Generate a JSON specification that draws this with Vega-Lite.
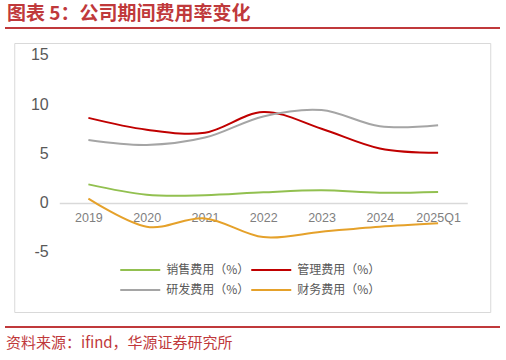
{
  "$schema": "https://vega.github.io/schema/vega-lite/v6.json",
  "padding": {"left": 5, "top": 5, "right": 5, "bottom": 0},
  "background": "white",
  "spacing": 13,
  "center": true,
  "config": {"font": "Noto Sans CJK SC"},
  "datasets": {
    "rates": [
      {"year": "2019", "series": "销售费用（%）", "value": 1.85},
      {"year": "2020", "series": "销售费用（%）", "value": 0.8},
      {"year": "2021", "series": "销售费用（%）", "value": 0.75},
      {"year": "2022", "series": "销售费用（%）", "value": 1.05},
      {"year": "2023", "series": "销售费用（%）", "value": 1.25},
      {"year": "2024", "series": "销售费用（%）", "value": 1.0},
      {"year": "2025Q1", "series": "销售费用（%）", "value": 1.08},
      {"year": "2019", "series": "管理费用（%）", "value": 8.6},
      {"year": "2020", "series": "管理费用（%）", "value": 7.4},
      {"year": "2021", "series": "管理费用（%）", "value": 7.1},
      {"year": "2022", "series": "管理费用（%）", "value": 9.2},
      {"year": "2023", "series": "管理费用（%）", "value": 7.5},
      {"year": "2024", "series": "管理费用（%）", "value": 5.5},
      {"year": "2025Q1", "series": "管理费用（%）", "value": 5.05},
      {"year": "2019", "series": "研发费用（%）", "value": 6.36},
      {"year": "2020", "series": "研发费用（%）", "value": 5.86},
      {"year": "2021", "series": "研发费用（%）", "value": 6.6},
      {"year": "2022", "series": "研发费用（%）", "value": 8.75},
      {"year": "2023", "series": "研发费用（%）", "value": 9.4},
      {"year": "2024", "series": "研发费用（%）", "value": 7.75},
      {"year": "2025Q1", "series": "研发费用（%）", "value": 7.85},
      {"year": "2019", "series": "财务费用（%）", "value": 0.4},
      {"year": "2020", "series": "财务费用（%）", "value": -2.45},
      {"year": "2021", "series": "财务费用（%）", "value": -1.6},
      {"year": "2022", "series": "财务费用（%）", "value": -3.5},
      {"year": "2023", "series": "财务费用（%）", "value": -2.95},
      {"year": "2024", "series": "财务费用（%）", "value": -2.45},
      {"year": "2025Q1", "series": "财务费用（%）", "value": -2.1}
    ]
  },
  "vconcat": [
    {
      "width": 495,
      "height": 2,
      "view": {"stroke": null, "fill": "#C0393B"},
      "title": {"text": "图表 5：公司期间费用率变化", "anchor": "start", "fontSize": 19, "fontWeight": "bold", "color": "#C0393B", "font": "Noto Sans CJK SC", "offset": 3, "dx": 2},
      "data": {"values": []},
      "mark": {"type": "rule"},
      "encoding": {}
    },
    {
      "width": 476,
      "height": 269,
      "view": {"stroke": "#D9D9D9", "strokeWidth": 1},
      "data": {"name": "rates"},
      "encoding": {
        "x": {
          "field": "year", "type": "ordinal",
          "scale": {"type": "point", "range": [45, 453], "padding": 0.5},
          "axis": {"title": null, "orient": "bottom", "offset": -109, "domainColor": "#D9D9D9", "domainWidth": 1.5, "ticks": false, "labelAngle": 0, "labelColor": "#7F7F7F", "labelFontSize": 12.5, "labelFont": "Liberation Sans", "labelPadding": 8, "grid": false}
        },
        "y": {
          "field": "value", "type": "quantitative",
          "scale": {"domain": [-11.1, 16.2], "nice": false, "zero": false},
          "axis": {"title": null, "values": [-5, 0, 5, 10, 15], "labelExpr": "replace(datum.label, '−', '-')", "offset": -36, "domain": false, "ticks": false, "grid": false, "labelColor": "#595959", "labelFontSize": 16, "labelFont": "Liberation Sans", "labelPadding": 2}
        }
      },
      "layer": [
        {
          "transform": [{"filter": {"field": "series", "oneOf": ["销售费用（%）", "管理费用（%）"]}}],
          "mark": {"type": "line", "interpolate": "cardinal", "strokeWidth": 2},
          "encoding": {
            "color": {
              "field": "series", "type": "nominal",
              "scale": {"domain": ["销售费用（%）", "管理费用（%）"], "range": ["#92C050", "#C00000"]},
              "legend": {"title": null, "orient": "none", "legendX": 105, "legendY": 206, "direction": "horizontal", "symbolType": "stroke", "symbolSize": 1600, "symbolStrokeWidth": 2, "labelFontSize": 12, "labelColor": "#595959", "labelFont": "Noto Sans CJK SC", "columnPadding": -4, "labelOffset": 5, "labelLimit": 200}
            }
          }
        },
        {
          "transform": [{"filter": {"field": "series", "oneOf": ["研发费用（%）", "财务费用（%）"]}}],
          "mark": {"type": "line", "interpolate": "cardinal", "strokeWidth": 2},
          "encoding": {
            "color": {
              "field": "series", "type": "nominal",
              "scale": {"domain": ["研发费用（%）", "财务费用（%）"], "range": ["#A5A5A5", "#E5A12A"]},
              "legend": {"title": null, "orient": "none", "legendX": 105, "legendY": 226, "direction": "horizontal", "symbolType": "stroke", "symbolSize": 1600, "symbolStrokeWidth": 2, "labelFontSize": 12, "labelColor": "#595959", "labelFont": "Noto Sans CJK SC", "columnPadding": -4, "labelOffset": 5, "labelLimit": 200}
            }
          }
        }
      ],
      "resolve": {"scale": {"color": "independent"}, "legend": {"color": "independent"}}
    },
    {
      "width": 495,
      "height": 2,
      "view": {"stroke": null, "fill": "#C0393B"},
      "title": {"text": "资料来源：ifind，华源证券研究所", "orient": "bottom", "anchor": "start", "fontSize": 15, "fontWeight": "normal", "color": "#C0393B", "font": "Noto Sans CJK SC", "offset": 8, "dx": 1},
      "data": {"values": []},
      "mark": {"type": "rule"},
      "encoding": {}
    }
  ]
}
